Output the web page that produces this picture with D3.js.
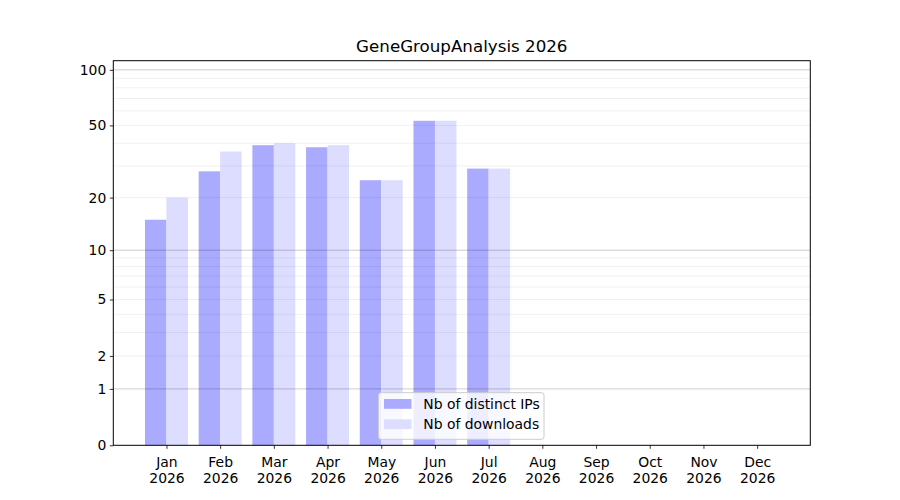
<!DOCTYPE html>
<html>
<head>
<meta charset="utf-8">
<script src="https://cdn.jsdelivr.net/npm/d3@7"></script>
<style>
  html, body { margin: 0; padding: 0; background: #fff; }
  svg { display: block; font-family: "DejaVu Sans", sans-serif; }
</style>
</head>
<body>
<svg id="chart" width="900" height="500"></svg>
<script>
const months = ["Jan","Feb","Mar","Apr","May","Jun","Jul","Aug","Sep","Oct","Nov","Dec"];
const year = "2026";
const distinctIPs = [15, 28, 39, 38, 25, 53, 29, 0, 0, 0, 0, 0];
const downloads   = [20, 36, 40, 39, 25, 53, 29, 0, 0, 0, 0, 0];
const yTicks = [0, 1, 2, 5, 10, 20, 50, 100];
const majorGrid = [1, 10, 100];
const minorGrid = [2,3,4,5,6,7,8,9,20,30,40,50,60,70,80,90];
const seriesNames = ["Nb of distinct IPs", "Nb of downloads"];
const title = "GeneGroupAnalysis 2026";

const svg = d3.select("#chart");
const L = 113.3, R = 810.3, T = 60.7, B = 445.3;
const barW = 0.4;

const x = d3.scaleLinear().domain([-0.99, 11.99]).range([L, R]);
const y = d3.scaleSymlog().constant(1).domain([0, 112]).range([B, T]);

const colIP = "#aaaaff", colDL = "#ddddff";

// bars
svg.append("g").selectAll("rect.ip").data(distinctIPs).join("rect")
  .attr("x", (d, i) => x(i - barW))
  .attr("width", (d, i) => x(i) - x(i - barW))
  .attr("y", d => y(d))
  .attr("height", d => B - y(d))
  .attr("fill", colIP);
svg.append("g").selectAll("rect.dl").data(downloads).join("rect")
  .attr("x", (d, i) => x(i))
  .attr("width", (d, i) => x(i + barW) - x(i))
  .attr("y", d => y(d))
  .attr("height", d => B - y(d))
  .attr("fill", colDL);

// gridlines on top
svg.append("g").selectAll("line").data(minorGrid).join("line")
  .attr("x1", L).attr("x2", R)
  .attr("y1", d => y(d)).attr("y2", d => y(d))
  .attr("stroke", "#000").attr("stroke-opacity", 0.075).attr("stroke-width", 0.8);
svg.append("g").selectAll("line").data(majorGrid).join("line")
  .attr("x1", L).attr("x2", R)
  .attr("y1", d => y(d)).attr("y2", d => y(d))
  .attr("stroke", "#000").attr("stroke-opacity", 0.2).attr("stroke-width", 1);

// axes
const yAxis = d3.axisLeft(y).tickValues(yTicks).tickFormat(d3.format("d")).tickSizeOuter(0).tickSize(3.5).tickPadding(3.5);
const gy = svg.append("g").attr("transform", `translate(${L},0)`).call(yAxis);
gy.select(".domain").remove();
gy.selectAll("text").attr("font-size", "13.9px").attr("fill", "#000").attr("font-family", "DejaVu Sans");
gy.selectAll("line").attr("stroke", "#000").attr("stroke-width", 0.8);

const xAxis = d3.axisBottom(x).tickValues(d3.range(months.length)).tickFormat("").tickSizeOuter(0).tickSize(3.5);
const gx = svg.append("g").attr("transform", `translate(0,${B})`).call(xAxis);
gx.select(".domain").remove();
gx.selectAll("line").attr("stroke", "#000").attr("stroke-width", 0.8);
gx.selectAll(".tick").each(function(d) {
  const t = d3.select(this).append("text")
    .attr("fill", "#000").attr("font-size", "13.9px").attr("font-family", "DejaVu Sans")
    .attr("text-anchor", "middle");
  t.append("tspan").attr("x", 0).attr("y", 22).text(months[d]);
  t.append("tspan").attr("x", 0).attr("y", 37.5).text(year);
});

// frame
svg.append("rect").attr("x", L).attr("y", T).attr("width", R - L).attr("height", B - T)
  .attr("fill", "none").attr("stroke", "#000").attr("stroke-width", 1);

// title
svg.append("text").attr("x", (L + R) / 2).attr("y", 52)
  .attr("text-anchor", "middle").attr("font-size", "16.7px").attr("fill", "#000")
  .text(title);

// legend
const lg = svg.append("g");
lg.append("rect").attr("x", 378.5).attr("y", 392.7).attr("width", 165.5).attr("height", 46.6)
  .attr("rx", 2.5).attr("fill", "#fff").attr("fill-opacity", 0.8)
  .attr("stroke", "#cccccc").attr("stroke-width", 1);
[colIP, colDL].forEach((c, i) => {
  lg.append("rect").attr("x", 384).attr("y", 399 + i * 20.3).attr("width", 27.5).attr("height", 9.8).attr("fill", c);
  lg.append("text").attr("x", 423.3).attr("y", 409 + i * 20.3).attr("font-size", "13.9px").attr("fill", "#000")
    .text(seriesNames[i]);
});
</script>
</body>
</html>
